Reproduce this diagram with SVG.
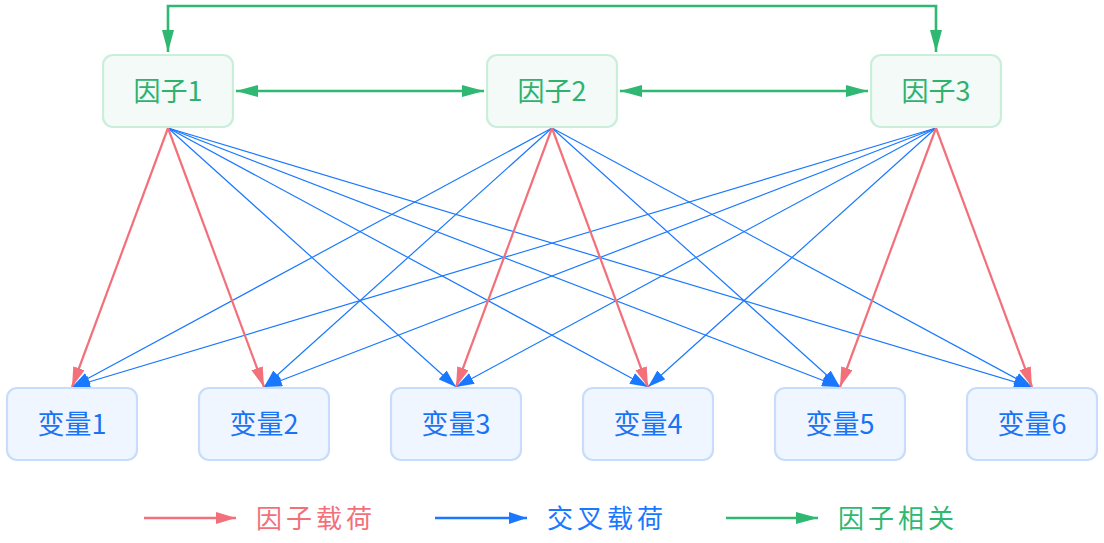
<svg xmlns="http://www.w3.org/2000/svg" width="1104" height="543" viewBox="0 0 1104 543">
<style>
.fbox{fill:#f3faf7;stroke:#cbeedb;stroke-width:2.2}
.vbox{fill:#f0f6ff;stroke:#c6ddfb;stroke-width:2.2}
.ft{font-family:"Noto Sans CJK SC","Noto Sans",sans-serif;font-size:27px;fill:#2eb26e;text-anchor:middle;dominant-baseline:central}
.vt{font-family:"Noto Sans CJK SC","Noto Sans",sans-serif;font-size:27px;fill:#1a73f5;text-anchor:middle;dominant-baseline:central}
.lt{font-family:"Noto Sans CJK SC","Noto Sans",sans-serif;font-size:26px;letter-spacing:4px;dominant-baseline:central}
.red{stroke:#f2707a;stroke-width:2.2;fill:none;marker-end:url(#ar)}
.blue{stroke:#1a78ff;stroke-width:1.2;fill:none;marker-end:url(#ab)}
.green{stroke:#2eb872;stroke-width:2.6;fill:none;marker-start:url(#ag);marker-end:url(#ag)}
</style>
<defs>
<marker id="ar" viewBox="0 0 20 12" refX="20" refY="6" markerWidth="20" markerHeight="12" markerUnits="userSpaceOnUse" orient="auto"><path d="M0,0 L20,6 L0,12 z" fill="#f2707a"/></marker>
<marker id="ab" viewBox="0 0 18 12" refX="18" refY="6" markerWidth="18" markerHeight="12" markerUnits="userSpaceOnUse" orient="auto"><path d="M0,0 L18,6 L0,12 z" fill="#1a78ff"/></marker>
<marker id="ag" viewBox="0 0 22 12" refX="22" refY="6" markerWidth="22" markerHeight="12" markerUnits="userSpaceOnUse" orient="auto-start-reverse"><path d="M0,0 L22,6 L0,12 z" fill="#2eb872"/></marker>
</defs>
<g id="connectors">
<path class="green" d="M168,52 V6 H936 V52"/>
<path class="green" d="M236,91 H484"/>
<path class="green" d="M620,91 H868"/>
<path class="blue" d="M168,128 L456,387"/>
<path class="blue" d="M168,128 L648,387"/>
<path class="blue" d="M168,128 L840,387"/>
<path class="blue" d="M168,128 L1032,387"/>
<path class="blue" d="M552,128 L72,387"/>
<path class="blue" d="M552,128 L264,387"/>
<path class="blue" d="M552,128 L840,387"/>
<path class="blue" d="M552,128 L1032,387"/>
<path class="blue" d="M936,128 L72,387"/>
<path class="blue" d="M936,128 L264,387"/>
<path class="blue" d="M936,128 L456,387"/>
<path class="blue" d="M936,128 L648,387"/>
<path class="red" d="M168,128 L72,387"/>
<path class="red" d="M168,128 L264,387"/>
<path class="red" d="M552,128 L456,387"/>
<path class="red" d="M552,128 L648,387"/>
<path class="red" d="M936,128 L840,387"/>
<path class="red" d="M936,128 L1032,387"/>
</g>
<g id="f1"><rect class="fbox" x="103" y="55" width="130" height="72" rx="10"/><text class="ft" x="168" y="89.5">因子1</text></g>
<g id="f2"><rect class="fbox" x="487" y="55" width="130" height="72" rx="10"/><text class="ft" x="552" y="89.5">因子2</text></g>
<g id="f3"><rect class="fbox" x="871" y="55" width="130" height="72" rx="10"/><text class="ft" x="936" y="89.5">因子3</text></g>
<g id="v1"><rect class="vbox" x="7" y="388" width="130" height="72" rx="10"/><text class="vt" x="72" y="422.5">变量1</text></g>
<g id="v2"><rect class="vbox" x="199" y="388" width="130" height="72" rx="10"/><text class="vt" x="264" y="422.5">变量2</text></g>
<g id="v3"><rect class="vbox" x="391" y="388" width="130" height="72" rx="10"/><text class="vt" x="456" y="422.5">变量3</text></g>
<g id="v4"><rect class="vbox" x="583" y="388" width="130" height="72" rx="10"/><text class="vt" x="648" y="422.5">变量4</text></g>
<g id="v5"><rect class="vbox" x="775" y="388" width="130" height="72" rx="10"/><text class="vt" x="840" y="422.5">变量5</text></g>
<g id="v6"><rect class="vbox" x="967" y="388" width="130" height="72" rx="10"/><text class="vt" x="1032" y="422.5">变量6</text></g>
<g id="legend">
<path d="M144,518 H236" stroke="#f2707a" stroke-width="2.6" marker-end="url(#ar)"/>
<text class="lt" x="256" y="516" fill="#f2707a">因子载荷</text>
<path d="M435,518 H527" stroke="#1a78ff" stroke-width="2.6" marker-end="url(#ab)"/>
<text class="lt" x="547" y="516" fill="#1a78ff">交叉载荷</text>
<path d="M726,518 H818" stroke="#2eb872" stroke-width="2.6" marker-end="url(#ag)"/>
<text class="lt" x="838" y="516" fill="#2eb872">因子相关</text>
</g>
</svg>
